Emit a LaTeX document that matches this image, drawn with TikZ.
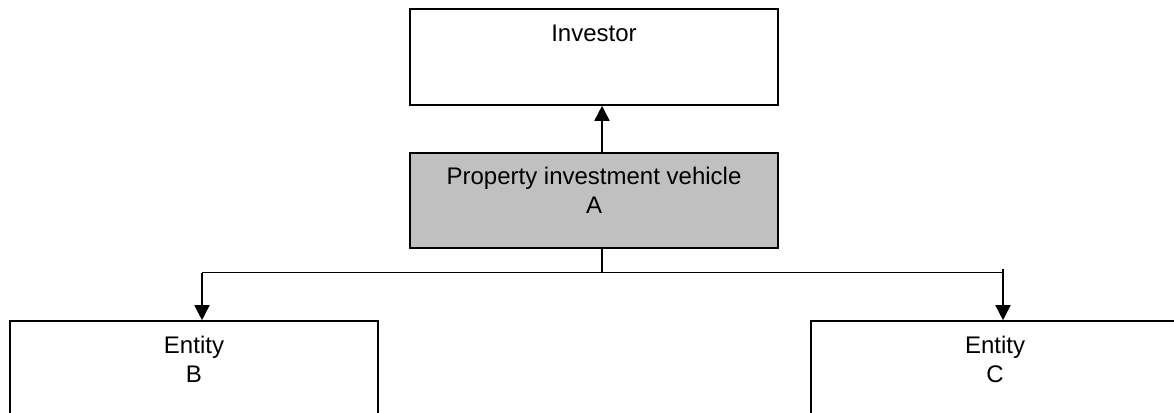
\documentclass[tikz,border=0pt]{standalone}
\usepackage{fontspec}
\setmainfont{Liberation Sans}
\usetikzlibrary{arrows.meta}
\definecolor{boxgray}{HTML}{C0C0C0}
\begin{document}
\begin{tikzpicture}[x=1pt,y=-1pt,
  box/.style={draw=black,line width=1.6pt,rectangle,inner sep=0pt,minimum width=368pt},
  lbl/.style={anchor=north,inner sep=0pt,align=center,font=\fontsize{24}{28.3}\selectfont},
  conn/.style={draw=black,line width=1.6pt},
  arr/.style={conn,-{Triangle[width=15pt,length=15pt]}}]
\clip (0,0) rectangle (1174,412);
\fill[white] (0,0) rectangle (1174,412);
\node[box,minimum height=96pt] (inv) at (594,57) {};
\node[box,fill=boxgray,minimum height=95pt] (piv) at (594,200.5) {};
\node[box,minimum height=140pt] (b) at (194,391) {};
\node[box,minimum height=140pt] (c) at (995,391) {};
\node[lbl] (invt) at ([yshift=-17pt]inv.north) {Investor};
\node[lbl] (pivt) at ([yshift=-15pt]piv.north) {Property investment vehicle\\A};
\node[lbl] (bt) at ([yshift=-16pt]b.north) {Entity\\B};
\node[lbl] (ct) at ([yshift=-16pt]c.north) {Entity\\C};
\coordinate (j) at (602,272.5);
\coordinate (bl) at (202,272.5);
\coordinate (cr) at (1003,272.5);
\coordinate (ctop) at (1003,269);
\draw[arr] (piv.north -| j) -- (inv.south -| j);
\draw[conn] (piv.south -| j) -- (j);
\draw[conn] (bl) -- (cr);
\draw[arr] (bl) -- (bl |- b.north);
\draw[arr] (ctop) -- (ctop |- c.north);
\end{tikzpicture}
\end{document}
